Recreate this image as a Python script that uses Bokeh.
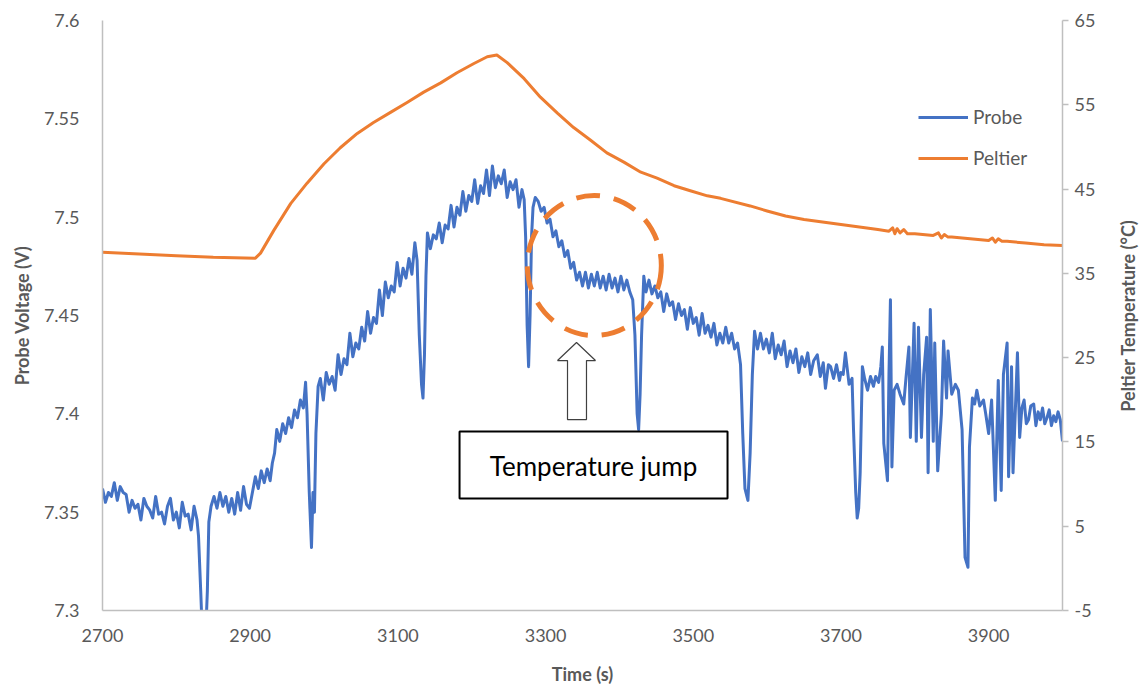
import math
from bokeh.plotting import figure
from bokeh.layouts import row
from bokeh.models import Range1d, LinearAxis, FixedTicker, Legend, LegendItem
from bokeh.embed import file_html
from bokeh.resources import INLINE
from bokeh.core.properties import value

# ---------------- data ----------------
probe_time = [
    2700, 2704, 2708, 2712, 2716, 2720, 2724, 2728, 2732, 2736,
    2740, 2744, 2748, 2752, 2756, 2760, 2764, 2768, 2772, 2776,
    2780, 2784, 2788, 2792, 2796, 2800, 2804, 2808, 2812, 2816,
    2820, 2824, 2828, 2830, 2833, 2835, 2840, 2842, 2844, 2847,
    2851, 2855, 2859, 2863, 2867, 2871, 2875, 2879, 2883, 2887,
    2891, 2895, 2899, 2903, 2907, 2911, 2915, 2919, 2923, 2927,
    2930, 2933, 2936, 2940, 2944, 2948, 2952, 2956, 2960, 2964,
    2968, 2972, 2975, 2977, 2980, 2983, 2985, 2987, 2989, 2992,
    2995, 2999, 3003, 3007, 3011, 3015, 3019, 3023, 3027, 3031,
    3035, 3039, 3043, 3047, 3051, 3055, 3059, 3063, 3067, 3071,
    3075, 3079, 3083, 3087, 3091, 3095, 3099, 3103, 3107, 3111,
    3115, 3119, 3123, 3126, 3129, 3132, 3134, 3136, 3138, 3140,
    3144, 3148, 3152, 3156, 3160, 3164, 3168, 3172, 3176, 3180,
    3184, 3188, 3192, 3196, 3200, 3204, 3208, 3212, 3216, 3220,
    3224, 3228, 3232, 3236, 3240, 3244, 3248, 3252, 3256, 3260,
    3264, 3268, 3271, 3273, 3275, 3277, 3279, 3281, 3283, 3286,
    3290, 3294, 3298, 3302, 3306, 3310, 3314, 3318, 3322, 3326,
    3330, 3334, 3338, 3342, 3346, 3350, 3354, 3358, 3362, 3366,
    3370, 3374, 3378, 3382, 3386, 3390, 3394, 3398, 3402, 3406,
    3410, 3414, 3418, 3421, 3424, 3426, 3428, 3430, 3433, 3436,
    3440, 3444, 3448, 3452, 3456, 3460, 3464, 3468, 3472, 3476,
    3480, 3484, 3488, 3492, 3496, 3500, 3504, 3508, 3512, 3516,
    3520, 3524, 3528, 3532, 3536, 3540, 3544, 3548, 3552, 3556,
    3560, 3564, 3567, 3570, 3574, 3577, 3580, 3583, 3587, 3591,
    3595, 3599, 3603, 3607, 3611, 3615, 3619, 3623, 3627, 3631,
    3635, 3639, 3643, 3647, 3651, 3655, 3659, 3663, 3668, 3672,
    3676, 3679, 3683, 3686, 3690, 3694, 3698, 3700, 3703, 3706,
    3711, 3715, 3717, 3720, 3722, 3724, 3726, 3729, 3732, 3736,
    3740, 3744, 3747, 3751, 3754, 3756, 3758, 3763, 3765, 3767,
    3769, 3772, 3776, 3780, 3785, 3788, 3792, 3794, 3799, 3802,
    3805, 3809, 3812, 3816, 3818, 3821, 3825, 3827, 3831, 3836,
    3839, 3843, 3845, 3850, 3855, 3859, 3864, 3868, 3872, 3874,
    3878, 3881, 3884, 3888, 3893, 3896, 3900, 3904, 3909, 3913,
    3917, 3920, 3925, 3927, 3931, 3933, 3939, 3942, 3945, 3948,
    3951, 3954, 3957, 3961, 3964, 3967, 3970, 3973, 3976, 3979,
    3982, 3985, 3988, 3991, 3994, 3997, 4000,
]
probe_volt = [
    7.362, 7.355, 7.360, 7.358, 7.365, 7.356, 7.363, 7.360, 7.359, 7.350,
    7.356, 7.352, 7.354, 7.346, 7.357, 7.353, 7.351, 7.347, 7.358, 7.349,
    7.350, 7.344, 7.353, 7.357, 7.346, 7.350, 7.342, 7.355, 7.348, 7.349,
    7.341, 7.353, 7.346, 7.338, 7.310, 7.290, 7.290, 7.310, 7.345, 7.353,
    7.358, 7.352, 7.360, 7.353, 7.358, 7.350, 7.357, 7.349, 7.360, 7.351,
    7.363, 7.354, 7.352, 7.360, 7.368, 7.362, 7.371, 7.365, 7.372, 7.366,
    7.375, 7.380, 7.392, 7.386, 7.395, 7.390, 7.398, 7.393, 7.402, 7.398,
    7.407, 7.403, 7.416, 7.400, 7.360, 7.332, 7.360, 7.350, 7.390, 7.414,
    7.418, 7.407, 7.421, 7.415, 7.419, 7.412, 7.430, 7.420, 7.428, 7.425,
    7.441, 7.429, 7.436, 7.433, 7.444, 7.437, 7.452, 7.441, 7.449, 7.446,
    7.463, 7.450, 7.467, 7.459, 7.465, 7.462, 7.477, 7.465, 7.474, 7.469,
    7.479, 7.471, 7.487, 7.478, 7.440, 7.415, 7.408, 7.430, 7.470, 7.492,
    7.484, 7.491, 7.489, 7.497, 7.487, 7.496, 7.494, 7.506, 7.495, 7.505,
    7.501, 7.513, 7.503, 7.511, 7.508, 7.519, 7.507, 7.516, 7.512, 7.524,
    7.511, 7.526, 7.515, 7.521, 7.517, 7.524, 7.510, 7.518, 7.514, 7.519,
    7.505, 7.514, 7.509, 7.490, 7.445, 7.424, 7.450, 7.490, 7.505, 7.510,
    7.508, 7.503, 7.505, 7.497, 7.499, 7.490, 7.493, 7.485, 7.488, 7.480,
    7.483, 7.474, 7.477, 7.468, 7.472, 7.465, 7.472, 7.464, 7.471, 7.465,
    7.472, 7.464, 7.470, 7.463, 7.471, 7.464, 7.469, 7.462, 7.470, 7.463,
    7.468, 7.462, 7.458, 7.440, 7.400, 7.392, 7.410, 7.440, 7.470, 7.462,
    7.468, 7.461, 7.465, 7.459, 7.462, 7.452, 7.461, 7.455, 7.457, 7.448,
    7.456, 7.450, 7.453, 7.443, 7.454, 7.446, 7.449, 7.440, 7.451, 7.441,
    7.445, 7.439, 7.446, 7.435, 7.441, 7.436, 7.444, 7.436, 7.441, 7.433,
    7.436, 7.425, 7.390, 7.362, 7.356, 7.380, 7.420, 7.442, 7.433, 7.441,
    7.433, 7.438, 7.431, 7.441, 7.428, 7.435, 7.430, 7.437, 7.424, 7.432,
    7.426, 7.433, 7.421, 7.429, 7.424, 7.431, 7.420, 7.427, 7.430, 7.419,
    7.426, 7.413, 7.425, 7.424, 7.418, 7.425, 7.417, 7.421, 7.420, 7.431,
    7.415, 7.418, 7.392, 7.360, 7.347, 7.352, 7.370, 7.424, 7.418, 7.412,
    7.419, 7.414, 7.419, 7.416, 7.424, 7.434, 7.385, 7.366, 7.420, 7.458,
    7.373, 7.412, 7.415, 7.410, 7.405, 7.418, 7.434, 7.388, 7.446, 7.386,
    7.444, 7.388, 7.420, 7.439, 7.370, 7.453, 7.386, 7.436, 7.371, 7.400,
    7.437, 7.408, 7.432, 7.410, 7.415, 7.412, 7.392, 7.327, 7.322, 7.383,
    7.408, 7.405, 7.412, 7.404, 7.407, 7.400, 7.390, 7.407, 7.356, 7.417,
    7.361, 7.420, 7.436, 7.368, 7.424, 7.370, 7.431, 7.388, 7.403, 7.407,
    7.395, 7.397, 7.404, 7.405, 7.394, 7.401, 7.397, 7.403, 7.395, 7.398,
    7.402, 7.394, 7.399, 7.396, 7.401, 7.397, 7.386,
]

peltier_time = [
    2700, 2750, 2800, 2850, 2907, 2914, 2932, 2955, 2977, 3000,
    3022, 3045, 3067, 3090, 3113, 3135, 3158, 3180, 3203, 3221,
    3234, 3248, 3271, 3293, 3316, 3338, 3361, 3383, 3406, 3429,
    3451, 3474, 3496, 3519, 3537, 3577, 3600, 3625, 3650, 3675,
    3700, 3725, 3750, 3765, 3770, 3773, 3776, 3780, 3785, 3790,
    3800, 3825, 3832, 3836, 3840, 3845, 3850, 3875, 3900, 3905,
    3909, 3913, 3918, 3925, 3950, 3975, 4000,
]
peltier_temp = [
    37.5, 37.3, 37.1, 36.9, 36.8, 37.4, 40.1, 43.3, 45.7, 48.0,
    49.9, 51.6, 52.9, 54.1, 55.3, 56.5, 57.6, 58.8, 59.9, 60.7,
    60.9, 60.0, 58.1, 55.9, 54.0, 52.3, 50.8, 49.3, 48.2, 47.0,
    46.3, 45.4, 44.8, 44.2, 43.9, 43.0, 42.4, 41.8, 41.4, 41.1,
    40.8, 40.5, 40.2, 40.0, 40.4, 39.7, 40.3, 39.8, 40.2, 39.7,
    39.7, 39.5, 39.8, 39.2, 39.6, 39.3, 39.3, 39.1, 38.9, 39.2,
    38.7, 39.1, 38.8, 38.8, 38.6, 38.4, 38.3,
]

volt_ticks = [7.3, 7.35, 7.4, 7.45, 7.5, 7.55, 7.6]
volt_labels = ["7.3", "7.35", "7.4", "7.45", "7.5", "7.55", "7.6"]
temp_ticks = [-5, 5, 15, 25, 35, 45, 55, 65]
temp_labels = ["-5", "5", "15", "25", "35", "45", "55", "65"]
time_ticks = [2700, 2900, 3100, 3300, 3500, 3700, 3900]

annotation_text = "Temperature jump"

# ---------------- styling ----------------
FONT = "Lato"
GRAY = "#595959"
AXIS_GRAY = "#BFBFBF"
BLUE = "#4472C4"
ORANGE = "#ED7D31"

p = figure(width=1100, height=689,
           x_range=Range1d(2700, 4000), y_range=Range1d(7.3, 7.6),
           output_backend="svg", toolbar_location=None,
           min_border_left=102, min_border_right=38,
           min_border_top=20, min_border_bottom=79)
p.extra_y_ranges = {"temp": Range1d(-5, 65)}
p.xgrid.visible = False
p.ygrid.visible = False
p.outline_line_color = None
p.background_fill_color = "white"
p.border_fill_color = "white"

r_probe = p.line(probe_time, probe_volt, line_color=BLUE, line_width=3,
                 line_join="round")
r_pelt = p.line(peltier_time, peltier_temp, line_color=ORANGE, line_width=3,
                y_range_name="temp", line_join="round")

# dashed circle highlighting the jump
p.ellipse(x=[3366], y=[7.4754], width=181.5, height=0.0712,
          fill_color=None, line_color=ORANGE, line_width=5, line_dash="24 14")

# hollow up arrow
arrow_x = [3341.9, 3367.6, 3355.4, 3355.4, 3329.7, 3329.7, 3316.2]
arrow_y = [7.4363, 7.4271, 7.4271, 7.3971, 7.3971, 7.4271, 7.4271]
p.patch(arrow_x, arrow_y, fill_color="white", line_color="#404040", line_width=1.2)

# text box
p.quad(left=[3183.5], right=[3546.4], top=[7.3910], bottom=[7.3569],
       fill_color="white", line_color="black", line_width=2)
p.text(x=[3364.9], y=[7.3737], text=[annotation_text], text_font=value(FONT),
       text_font_size="26px", text_align="center", text_baseline="middle",
       text_color="black")

# axes
def style_axis(ax, title):
    ax.axis_line_color = AXIS_GRAY
    ax.axis_line_width = 1.5
    ax.minor_tick_line_color = None
    ax.major_label_text_font = FONT
    ax.major_label_text_font_size = "18px"
    ax.major_label_text_color = GRAY
    ax.axis_label = title
    ax.axis_label_text_font = FONT
    ax.axis_label_text_font_size = "18px"
    ax.axis_label_text_font_style = "bold"
    ax.axis_label_text_color = GRAY

yl = p.yaxis[0]
style_axis(yl, "Probe Voltage (V)")
yl.ticker = FixedTicker(ticks=volt_ticks)
yl.major_label_overrides = {t: s for t, s in zip(volt_ticks, volt_labels)}
yl.major_tick_line_color = None
yl.major_label_standoff = 17
yl.axis_label_standoff = 8

xb = p.xaxis[0]
style_axis(xb, "Time (s)")
xb.ticker = FixedTicker(ticks=time_ticks)
xb.major_tick_line_color = None
xb.major_label_standoff = 12
xb.axis_label_standoff = 18

yr = LinearAxis(y_range_name="temp")
style_axis(yr, None)
yr.ticker = FixedTicker(ticks=temp_ticks)
yr.major_label_overrides = {t: s for t, s in zip(temp_ticks, temp_labels)}
yr.major_tick_line_color = AXIS_GRAY
yr.major_tick_line_width = 1.5
yr.major_tick_in = 0
yr.major_tick_out = 6
yr.major_label_standoff = 6
p.add_layout(yr, "right")

legend = Legend(items=[LegendItem(label="Probe", renderers=[r_probe]),
                       LegendItem(label="Peltier", renderers=[r_pelt])],
                location=(816, 441))
legend.label_text_font = FONT
legend.label_text_font_size = "19px"
legend.label_text_color = GRAY
legend.glyph_width = 50
legend.glyph_height = 20
legend.label_height = 20
legend.spacing = 18
legend.padding = 0
legend.margin = 0
legend.label_standoff = 5
legend.border_line_color = None
legend.background_fill_alpha = 0
p.add_layout(legend)

# narrow companion figure carrying the right-hand axis title (reads bottom-to-top)
p2 = figure(width=45, height=689, output_backend="svg", toolbar_location=None,
            y_range=Range1d(-5, 65), x_range=Range1d(0, 1),
            min_border_left=40, min_border_right=0,
            min_border_top=20, min_border_bottom=79)
p2.xaxis.visible = False
p2.xgrid.visible = False
p2.ygrid.visible = False
p2.outline_line_color = None
p2.background_fill_color = "white"
p2.border_fill_color = "white"
t_ax = p2.yaxis[0]
t_ax.ticker = FixedTicker(ticks=[])
t_ax.axis_line_color = None
t_ax.major_tick_line_color = None
t_ax.minor_tick_line_color = None
t_ax.major_label_text_font_size = "0px"
t_ax.axis_label = "Peltier Temperature (°C)"
t_ax.axis_label_standoff = 2
t_ax.axis_label_text_font = FONT
t_ax.axis_label_text_font_size = "18px"
t_ax.axis_label_text_font_style = "bold"
t_ax.axis_label_text_color = GRAY

layout = row(p, p2, spacing=0)
open("out.html", "w").write(file_html(layout, INLINE))
